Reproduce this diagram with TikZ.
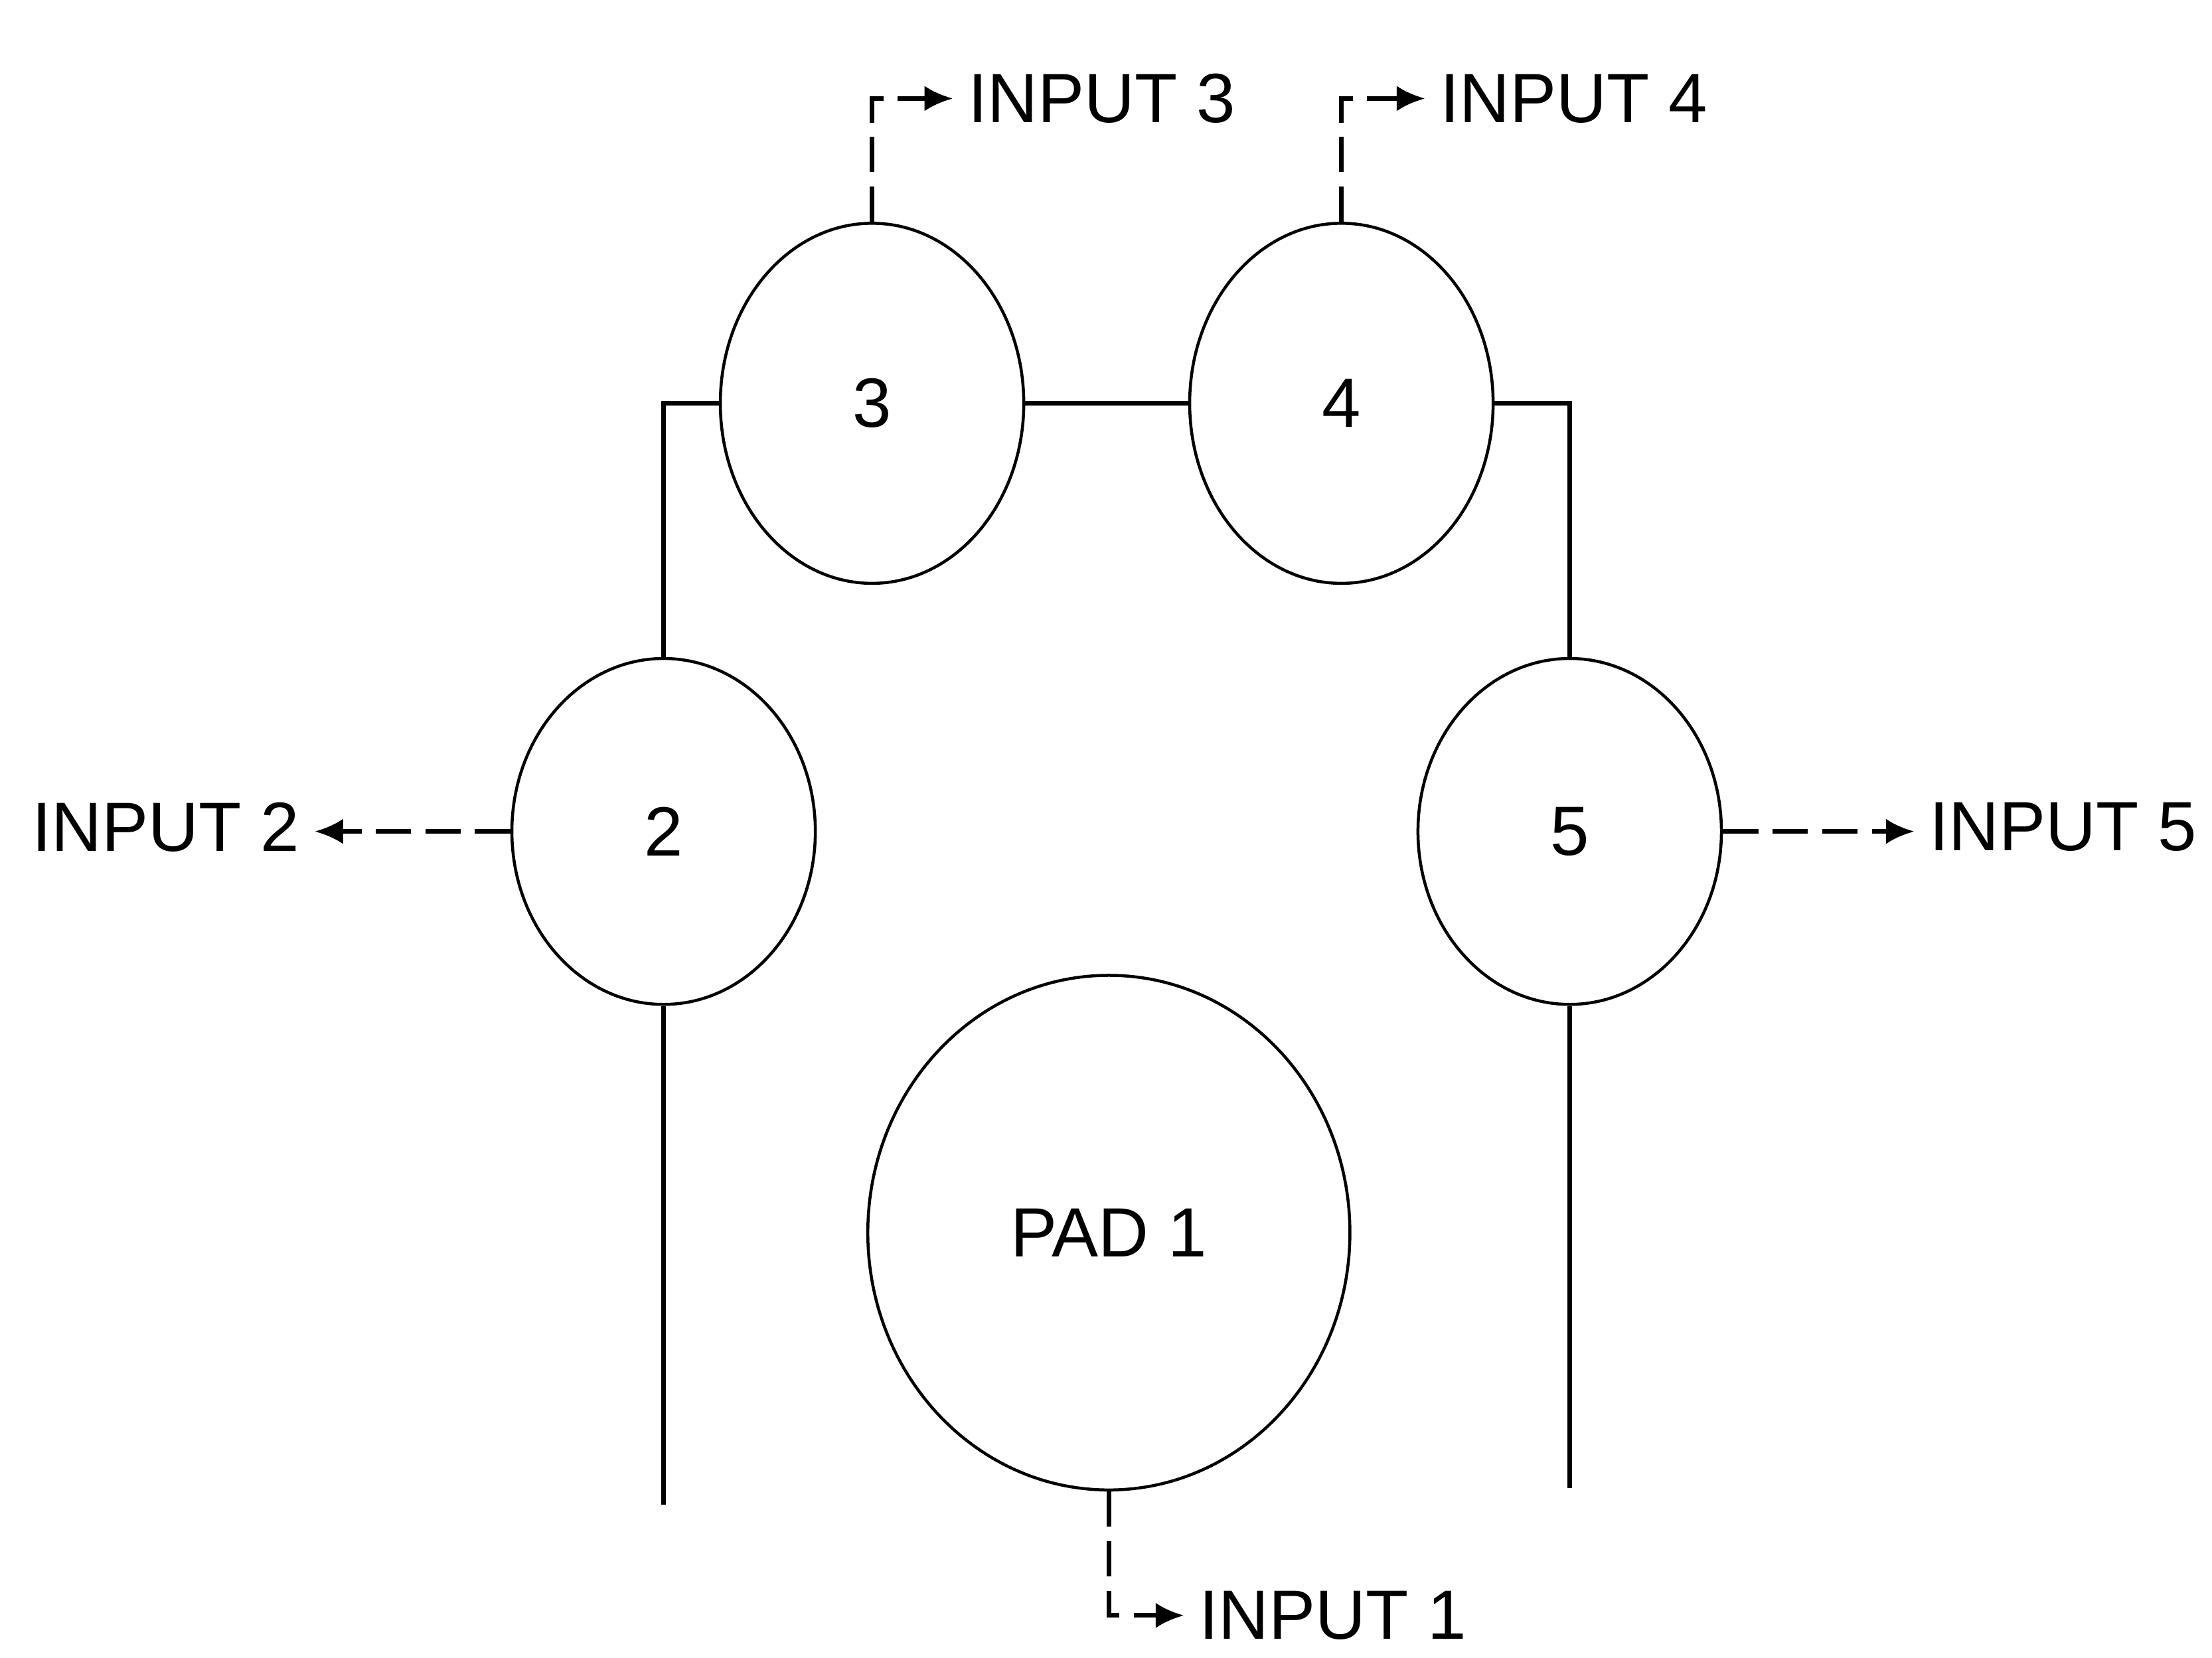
\documentclass[tikz,border=0pt]{standalone}
\usepackage{fontspec}
\setmainfont{Liberation Sans}
\usetikzlibrary{shapes.geometric,arrows.meta}

\begin{document}
\begin{tikzpicture}[
  pad/.style={shape=ellipse, draw=black, line width=0.6pt, inner sep=0pt},
  lbl/.style={inner sep=1mm, font=\fontsize{14}{16}\selectfont},
  wire/.style={line width=1pt},
  feed/.style={line width=0.9pt, dash pattern=on 2.5mm off 1mm, -{Latex[length=2mm,width=1.8mm]}},
  font=\fontsize{14}{16}\selectfont]
\useasboundingbox (0,0) rectangle (15.6,11.695);

\node[pad, minimum width=2.14cm, minimum height=2.54cm](3) at (6.15,8.85) {3};
\node[pad, minimum width=2.14cm, minimum height=2.54cm](4) at (9.46,8.85) {4};
\node[pad, minimum width=2.14cm, minimum height=2.44cm](2) at (4.68,5.83) {2};
\node[pad, minimum width=2.14cm, minimum height=2.44cm](5) at (11.07,5.83) {5};
\node[pad, minimum width=3.40cm, minimum height=3.63cm](1) at (7.82,3.00) {PAD 1};

\node[lbl, anchor=west](in3) at (6.72,11.00) {INPUT 3};
\node[lbl, anchor=west](in4) at (10.05,11.00) {INPUT 4};
\node[lbl, anchor=east](in2) at (2.22,5.86) {INPUT 2};
\node[lbl, anchor=west](in5) at (13.50,5.86) {INPUT 5};
\node[lbl, anchor=west](in1) at (8.35,0.30) {INPUT 1};

\coordinate (2end) at (4.68,1.08);
\coordinate (5end) at (11.07,1.20);

% traces
\draw[wire] (3.west) -| (2.north);
\path[wire] (3.east) edge (4.west);
\draw[wire] (4.east) -| (5.north);
\path[wire] (2.south) edge (2end);
\path[wire] (5.south) edge (5end);

% inputs
\draw[feed] (3.north) |- (in3.west);
\draw[feed] (4.north) |- (in4.west);
\draw[feed] (2.west) -- (2.west -| in2.east);
\draw[feed] (5.east) -- (5.east -| in5.west);
\draw[feed] (1.south) |- (in1.west);
\end{tikzpicture}
\end{document}
